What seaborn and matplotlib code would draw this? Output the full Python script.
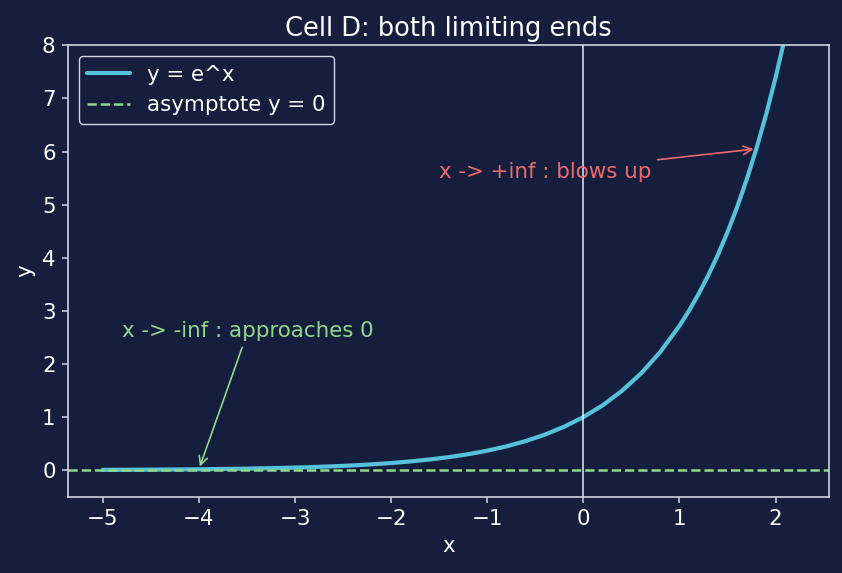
import seaborn as sns
import matplotlib.pyplot as plt
import pandas as pd

# curve samples (y = e^x)
x_vals = [-5.0, -4.8, -4.6, -4.4, -4.2, -4.0, -3.8, -3.6, -3.4, -3.2, -3.0,
          -2.8, -2.6, -2.4, -2.2, -2.0, -1.8, -1.6, -1.4, -1.2, -1.0,
          -0.8, -0.6, -0.4, -0.2, 0.0, 0.2, 0.4, 0.6, 0.8, 1.0,
          1.1, 1.2, 1.3, 1.4, 1.5, 1.6, 1.7, 1.8, 1.9, 2.0, 2.1, 2.2]
y_vals = [0.0067, 0.0082, 0.0101, 0.0123, 0.0150, 0.0183, 0.0224, 0.0273, 0.0334, 0.0408, 0.0498,
          0.0608, 0.0743, 0.0907, 0.1108, 0.1353, 0.1653, 0.2019, 0.2466, 0.3012, 0.3679,
          0.4493, 0.5488, 0.6703, 0.8187, 1.0, 1.2214, 1.4918, 1.8221, 2.2255, 2.7183,
          3.0042, 3.3201, 3.6693, 4.0552, 4.4817, 4.9530, 5.4739, 6.0496, 6.6859, 7.3891, 8.1662, 9.0250]
asymptote_y = 0

left_note = 'x -> -inf : approaches 0'
left_note_xy = (-4.8, 2.5)
left_target_x = -4.0
left_target_y = 0.0183
right_note = 'x -> +inf : blows up'
right_note_xy = (-1.5, 5.5)
right_target_x = 1.8
right_target_y = 6.0496

bg = '#151f3d'
fg = '#d0d4e6'
curve_col = '#56c1da'
green = '#8fd88a'
red = '#ee6a6a'

df = pd.DataFrame({'x': x_vals, 'y': y_vals})

sns.set_theme(style='dark', rc={
    'figure.facecolor': bg, 'axes.facecolor': bg, 'axes.edgecolor': fg,
    'axes.labelcolor': 'white', 'xtick.color': fg, 'ytick.color': fg,
    'text.color': 'white', 'axes.grid': False,
    'xtick.bottom': True, 'ytick.left': True,
})
plt.rcParams['font.family'] = ['DejaVu Sans']

fig, ax = plt.subplots(figsize=(8.42, 5.73), dpi=100)

sns.lineplot(data=df, x='x', y='y', ax=ax, color=curve_col, lw=3, label='y = e^x')
ax.axhline(asymptote_y, color=green, ls='--', lw=1.8, label='asymptote y = 0')
ax.axvline(0, color='white', lw=1.1, alpha=0.9)

ax.annotate(left_note, xy=(left_target_x, left_target_y), xytext=left_note_xy,
            color=green, fontsize=15.4,
            arrowprops=dict(arrowstyle='->', color=green, lw=1.2))
ax.annotate(right_note, xy=(right_target_x, right_target_y), xytext=right_note_xy,
            color=red, fontsize=15.4,
            arrowprops=dict(arrowstyle='->', color=red, lw=1.2))

ax.set_ylim(-0.5, 8)
ax.set_title('Cell D: both limiting ends', fontsize=18.5, color='white', pad=7)
ax.set_xlabel('x', fontsize=15.4, labelpad=5)
ax.set_ylabel('y', fontsize=15.4, labelpad=5)
ax.tick_params(labelsize=15.4, labelcolor='white', length=4.5, width=1.1, pad=4.5)
for s in ax.spines.values():
    s.set_color(fg)
    s.set_linewidth(1.2)

leg = ax.legend(loc='upper left', fontsize=15.4, facecolor=bg, edgecolor=fg, framealpha=1)
for t in leg.get_texts():
    t.set_color('white')

fig.subplots_adjust(left=0.081, right=0.985, top=0.921, bottom=0.133)
fig.savefig('out.png', dpi=100, facecolor=bg)
